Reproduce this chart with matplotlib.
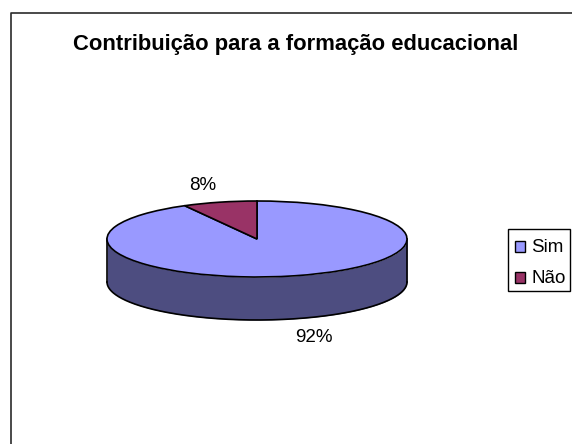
import numpy as np
import matplotlib
matplotlib.use("Agg")
import matplotlib.pyplot as plt
from matplotlib.lines import Line2D
from matplotlib.patches import Rectangle
from matplotlib.transforms import Affine2D

categories = ["Sim", "Não"]
values = [92, 8]
value_labels = ["92%", "8%"]
title = "Contribuição para a formação educacional"
colors = ["#9999FF", "#993366"]
side_color = "#4D4D80"

W, H = 572, 444
plt.rcParams["font.family"] = ["Liberation Sans", "DejaVu Sans"]
fig = plt.figure(figsize=(W / 100, H / 100), dpi=100, facecolor="white")
px = Affine2D().scale(1, -1).translate(0, H)  # reference pixel coordinates

# chart frame: only its left and top edges fall inside the picture
fig.add_artist(Line2D([10.5, 10.5, W], [H, 12.8, 12.8], transform=px,
                      color="#2b2b2b", lw=1.2))

# top face occupies the axes box; the side wall hangs below it
L, R, T, B = 107, 407, 201, 277
ax = fig.add_axes([L / W, 1 - B / H, (R - L) / W, (B - T) / H])
depth = 43 / ((B - T) / 2)
t = np.linspace(np.pi, 2 * np.pi, 300)
ax.fill_between(np.cos(t), np.sin(t) - depth, np.sin(t), color=side_color, lw=0,
                clip_on=False, zorder=1)
ax.plot(np.cos(t), np.sin(t) - depth, color="black", lw=1.2, clip_on=False, zorder=2)
for s in (-1, 1):
    ax.plot([s, s], [0, -depth], color="black", lw=1.2, clip_on=False, zorder=2)

wedges, _ = ax.pie(values, colors=colors, startangle=90, counterclock=False, radius=1,
                   wedgeprops=dict(edgecolor="black", linewidth=1.2, clip_on=False, zorder=3))
ax.set_aspect("auto")
ax.set_xlim(-1, 1)
ax.set_ylim(-1, 1)
ax.axis("off")

fig.text(203, 190, value_labels[1], transform=px, ha="center", va="baseline", fontsize=13.5, color="black")
fig.text(314, 342, value_labels[0], transform=px, ha="center", va="baseline", fontsize=13.5, color="black")
fig.text(73, 50, title, transform=px, ha="left", va="baseline", fontsize=15.8,
         fontweight="bold", color="black")

# legend: frame, swatches and labels
fig.add_artist(Rectangle((507.5, 228.5), 62, 62.5, transform=px, facecolor="white",
                         edgecolor="black", linewidth=1.0))
for name, color, y in zip(categories, colors, (241, 272)):
    fig.add_artist(Rectangle((515, y), 10, 10.5, transform=px, facecolor=color,
                             edgecolor="black", linewidth=1.0))
    fig.text(531.5, y + 11, name, transform=px, ha="left", va="baseline",
             fontsize=13.5, color="black")

fig.savefig("out.png", dpi=100)
